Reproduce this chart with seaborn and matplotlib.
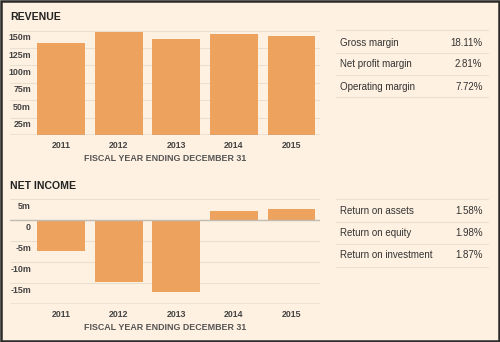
import matplotlib
matplotlib.use("Agg")
import matplotlib.pyplot as plt
import matplotlib.transforms as mtransforms
from matplotlib.lines import Line2D
from matplotlib.patches import Rectangle
import seaborn as sns
import pandas as pd

years = ["2011", "2012", "2013", "2014", "2015"]
revenue_m = [133, 147.5, 138, 145.5, 142.5]
net_income_m = [-7.2, -14.7, -17.1, 2.3, 2.7]
revenue_ticks = [25, 50, 75, 100, 125, 150]
revenue_tick_labels = ["25m", "50m", "75m", "100m", "125m", "150m"]
income_ticks = [-15, -10, -5, 0, 5]
income_tick_labels = ["-15m", "-10m", "-5m", "0", "5m"]
revenue_ratio_names = ["Gross margin", "Net profit margin", "Operating margin"]
revenue_ratio_values = ["18.11%", "2.81%", "7.72%"]
income_ratio_names = ["Return on assets", "Return on equity", "Return on investment"]
income_ratio_values = ["1.58%", "1.98%", "1.87%"]

BG = "#fef1e1"
BAR = "#eda25e"
GRID = "#eadfd0"
TXT = "#333333"

sns.set_theme(style="white")
plt.rcParams["font.family"] = ["Liberation Sans", "DejaVu Sans"]

W, H = 500, 342
fig = plt.figure(figsize=(W / 100, H / 100), dpi=100, facecolor=BG)


def fx(px):
    return px / W


def fy(py):
    return 1 - py / H


def panel(top_px, bot_px, values, ylim, ticks, tick_labels, title, title_y,
          names, vals, row_lines, row_text_y, zero_line=False):
    ax = fig.add_axes([fx(10), fy(bot_px), fx(320) - fx(10), (bot_px - top_px) / H])
    ax.set_facecolor(BG)
    df = pd.DataFrame({"year": years, "value": values})
    sns.barplot(data=df, x="year", y="value", color=BAR, saturation=1,
                width=0.83, ax=ax, linewidth=0, edgecolor=BAR)
    for p in ax.patches:
        p.set_zorder(3)
    ax.set_xlim(-0.885, 4.495)
    ax.set_ylim(*ylim)
    for s in ax.spines.values():
        s.set_visible(False)
    ax.set_yticks([])
    # gridlines
    for t in ticks:
        ax.axhline(t, color=GRID, lw=0.8, zorder=1)
    ax.axhline(ylim[0], color="#aaa49c", lw=1.0, zorder=4)
    if zero_line:
        ax.axhline(0, color="#c2bbb2", lw=1.0, zorder=4)
    # y labels, sitting just below their gridlines
    trans = mtransforms.blended_transform_factory(ax.transAxes, ax.transData)
    trans = mtransforms.offset_copy(trans, fig=fig, x=0, y=-7, units="dots")
    for t, lab in zip(ticks, tick_labels):
        ax.text(0.068, t, lab, transform=trans, ha="right", va="center",
                fontsize=6.4, fontweight="bold", color="#444444")
    ax.tick_params(axis="x", length=0, pad=4, labelsize=6.3, labelcolor="#444444")
    for lab in ax.get_xticklabels():
        lab.set_fontweight("bold")
    ax.set_xlabel("FISCAL YEAR ENDING DECEMBER 31", fontsize=6.4,
                  fontweight="bold", color="#555555", labelpad=3)
    ax.set_ylabel("")
    fig.text(fx(10), fy(title_y), title, fontsize=7.6, fontweight="bold",
             color="#222222", ha="left", va="center")
    for ly in row_lines:
        fig.add_artist(Line2D([fx(336), fx(488)], [fy(ly), fy(ly)],
                              color=GRID, lw=0.8))
    for n, v, ty in zip(names, vals, row_text_y):
        fig.text(fx(340.5), fy(ty), n, fontsize=7, color=TXT, ha="left", va="center")
        fig.text(fx(482.5), fy(ty), v, fontsize=7, color=TXT, ha="right", va="center")
    return ax


panel(30.7, 135, revenue_m, (0, 150), revenue_ticks, revenue_tick_labels,
      "REVENUE", 17, revenue_ratio_names, revenue_ratio_values,
      [30, 52.7, 75, 97.3], [42.7, 64.3, 86.7])
panel(199.3, 304.3, net_income_m, (-20, 5), income_ticks, income_tick_labels,
      "NET INCOME", 186, income_ratio_names, income_ratio_values,
      [199.3, 221.7, 244.3, 266.7], [211, 233.3, 255.3], zero_line=True)

fig.add_artist(Rectangle((0.001, 0.002), 0.997, 0.996, transform=fig.transFigure,
                         fill=False, edgecolor="#2a2a2a", lw=1.8))

fig.savefig("out.png", dpi=100, facecolor=BG)
